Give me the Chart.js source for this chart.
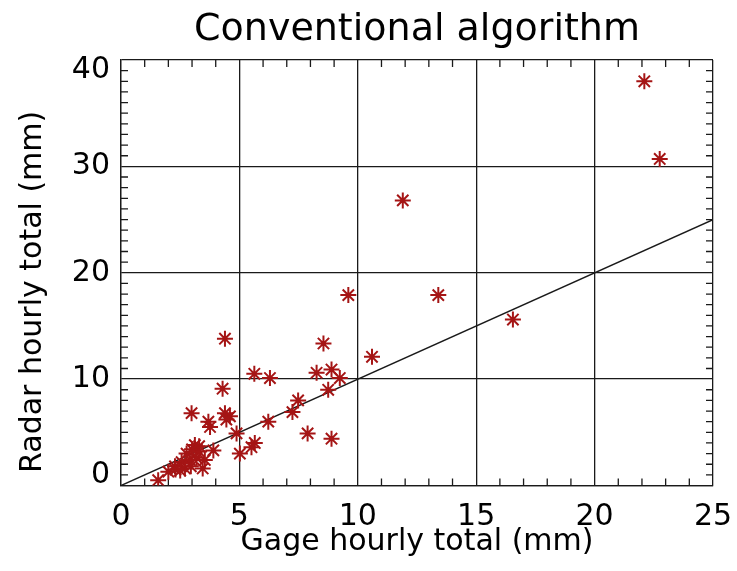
<!DOCTYPE html>
<html>
<head>
<meta charset="utf-8">
<script src="https://cdn.jsdelivr.net/npm/chart.js@4/dist/chart.umd.min.js"></script>
<style>
html, body {margin:0; padding:0; background:#fff;}
#wrap {width:737px; height:571px; position:relative;}
</style>
</head>
<body>
<div id="wrap"><canvas id="c"></canvas></div>
<script>
// gage vs radar hourly totals (mm)
const gageTotal  = [22.1, 22.75, 11.9, 13.4, 16.55, 9.6, 10.6, 8.55, 4.39, 5.63, 6.29, 8.26, 8.89, 9.24, 8.75,
                    4.29, 2.98, 3.69, 3.76, 4.39, 4.6, 4.45, 4.88, 5.02, 5.65, 5.51, 6.22, 7.24, 7.48, 7.88,
                    8.89, 3.9, 3.45, 1.57, 2.77, 3.12, 3.3, 2.56, 2.91, 3.19, 2.28, 2.0, 2.3, 3.54, 2.7,
                    2.95, 3.3, 2.5, 3.0];
const radarTotal = [38.0, 30.7, 26.8, 17.9, 15.6, 17.9, 12.1, 13.35, 13.8, 10.5, 10.1, 10.6, 10.9, 10.1, 9.0,
                    9.1, 6.8, 6.0, 5.5, 6.8, 6.5, 6.2, 4.9, 3.0, 4.0, 3.6, 6.0, 6.9, 8.0, 4.9,
                    4.4, 3.3, 1.6, 0.5, 3.0, 3.8, 3.7, 2.2, 2.4, 2.6, 1.8, 1.3, 1.5, 2.4, 1.6,
                    1.8, 3.2, 1.4, 3.4];
const oneToOneX = [0, 25];
const oneToOneY = [0, 25];
const xTickValues = [0, 5, 10, 15, 20, 25];
const yTickValues = [0, 10, 20, 30, 40];

const ink = '#1a1a1a';
const starRed = '#a51515';
const face = 'DejaVu Sans';

// little inward ticks every 1 mm on all four sides
const minorTicks = {
  id: 'minorTicks',
  beforeDatasetsDraw(chart) {
    const {ctx, chartArea: a, scales: {x, y}} = chart;
    const len = 7;
    ctx.save();
    ctx.strokeStyle = ink;
    ctx.lineWidth = 1.3;
    ctx.beginPath();
    for (let v = Math.ceil(x.min); v <= x.max; v++) {
      if (v % 5 === 0) continue;
      const px = x.getPixelForValue(v);
      ctx.moveTo(px, a.bottom); ctx.lineTo(px, a.bottom - len);
      ctx.moveTo(px, a.top); ctx.lineTo(px, a.top + len);
    }
    for (let v = Math.ceil(y.min); v <= y.max; v++) {
      if (v % 10 === 0) continue;
      const py = y.getPixelForValue(v);
      ctx.moveTo(a.left, py); ctx.lineTo(a.left + len, py);
      ctx.moveTo(a.right, py); ctx.lineTo(a.right - len, py);
    }
    ctx.stroke();
    ctx.restore();
  }
};

const points = gageTotal.map((g, i) => ({x: g, y: radarTotal[i]}));
const line = oneToOneX.map((v, i) => ({x: v, y: oneToOneY[i]}));

new Chart(document.getElementById('c'), {
  type: 'scatter',
  plugins: [minorTicks],
  data: {
    datasets: [
      { data: points, pointStyle: 'star', pointRadius: 8, pointHoverRadius: 8,
        borderColor: starRed, backgroundColor: starRed, pointBorderWidth: 2 },
      { data: line, showLine: true, pointRadius: 0, borderColor: ink, borderWidth: 1.5 }
    ]
  },
  options: {
    responsive: true,
    maintainAspectRatio: false,
    animation: false,
    layout: {padding: {left: 0, right: 24, top: 0, bottom: 0}},
    plugins: {
      legend: {display: false},
      tooltip: {enabled: false},
      title: {display: true, text: 'Conventional algorithm', fullSize: false, color: '#000',
              font: {family: face, size: 38, weight: 'normal', lineHeight: 1.2},
              padding: {top: 7.7, bottom: 6.7}}
    },
    scales: {
      x: {
        type: 'linear', min: 0, max: 25,
        afterBuildTicks: s => { s.ticks = xTickValues.map(v => ({value: v})); },
        afterFit: s => { s.height = 85.5; },
        ticks: {color: '#000', padding: 4, maxRotation: 0, autoSkip: false,
                font: {family: face, size: 30, lineHeight: 1.2}},
        // invisible outer tick only used as a spacer under the frame
        grid: {color: ink, lineWidth: 1.3, drawTicks: true, tickLength: 9.5, tickColor: 'rgba(0,0,0,0)'},
        border: {color: ink, width: 1.3},
        title: {display: true, text: 'Gage hourly total (mm)', color: '#000',
                font: {family: face, size: 30, lineHeight: 1.2}, padding: {top: 0, bottom: 11}}
      },
      y: {
        type: 'linear', min: 0, max: 40,
        afterBuildTicks: s => { s.ticks = yTickValues.map(v => ({value: v})); },
        afterFit: s => { s.width = 121; },
        ticks: {color: '#000', padding: 11, autoSkip: false,
                font: {family: face, size: 30, lineHeight: '20px'},
                // end labels sit inside the frame, like the original
                callback: v => v === 40 ? ['', '40'] : (v === 0 ? ['0', ''] : String(v))},
        grid: {color: ink, lineWidth: 1.3, drawTicks: false},
        border: {color: ink, width: 1.3},
        title: {display: true, text: 'Radar hourly total (mm)    ', color: '#000',
                font: {family: face, size: 30, lineHeight: 1.2}, padding: {top: 15, bottom: 0}}
      }
    }
  }
});
</script>
</body>
</html>
